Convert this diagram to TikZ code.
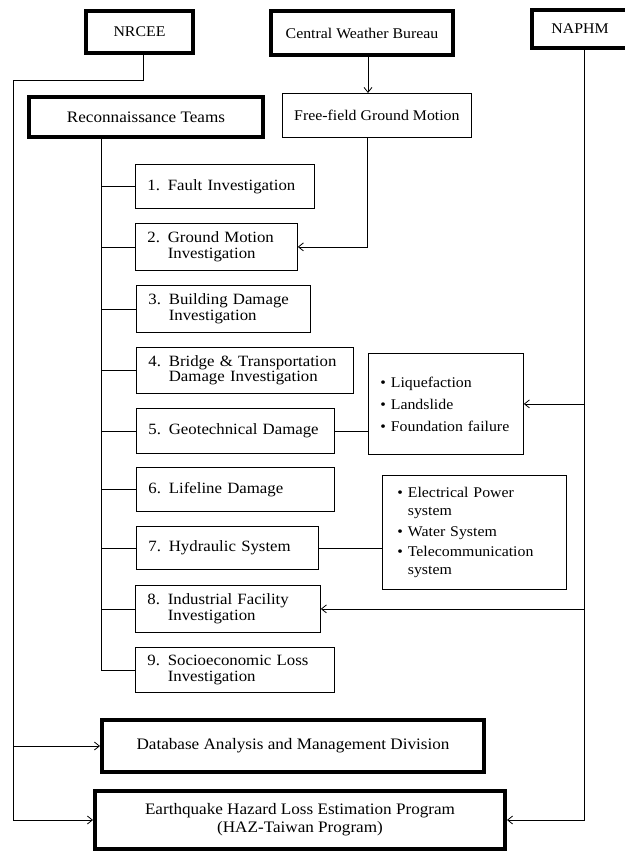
\documentclass[tikz,border=0pt]{standalone}
\usepackage{fontspec}
\setmainfont{Liberation Serif}[FakeStretch=1.07]
\usepackage{tikz}
\usetikzlibrary{arrows.meta,positioning}
\hyphenpenalty=10000

\begin{document}
\begin{tikzpicture}[x=1pt, y=-1pt, >={Straight Barb[length=5pt,width=8pt]},
  every node/.style={draw,anchor=north west,line width=0.8pt,inner sep=0pt},
  headbox/.style={line width=4pt,font=\fontsize{14.8}{16}\selectfont},
  mainbox/.style={line width=4pt,font=\fontsize{16}{18}\selectfont,align=center},
  numbox/.style={align=left,inner xsep=12pt,font=\fontsize{15.7}{15.5}\selectfont},
  listbox/.style={align=left,font=\fontsize{14.8}{18}\selectfont},
  link/.style={line width=0.8pt}]
  \useasboundingbox (0,0) rectangle (624,853);

  % agencies
  \node[headbox,minimum width=107pt,minimum height=42pt] (nrcee) at (84,9) {NRCEE};
  \node[headbox,minimum width=182pt,minimum height=44pt] (cwb) at (269,9) {Central Weather Bureau};
  \node[headbox,minimum width=96pt,minimum height=38pt] (naphm) at (530,8) {NAPHM};

  \node[mainbox,minimum width=234pt,minimum height=40pt] (recon) at (27,95) {Reconnaissance Teams};
  \node[font=\fontsize{14.8}{16}\selectfont,minimum width=189pt,minimum height=44pt] (ffgm) at (282,93) {Free-field Ground Motion};

  % investigations
  \node[numbox,text width=155pt,minimum height=44pt] (n1) at (135,164) {1. Fault Investigation};
  \node[numbox,text width=138pt,minimum height=47pt] (n2) at (135,223) {2. Ground Motion\\\phantom{2. }Investigation};
  \node[numbox,text width=150pt,minimum height=47pt] (n3) at (136,285) {3. Building Damage\\\phantom{3. }Investigation};
  \node[numbox,text width=193pt,minimum height=46pt] (n4) at (136,347) {4. Bridge \& Transportation\\\phantom{4. }Damage Investigation};
  \node[numbox,text width=174pt,minimum height=45pt] (n5) at (136,408) {5. Geotechnical Damage};
  \node[numbox,text width=174pt,minimum height=44pt] (n6) at (136,467) {6. Lifeline Damage};
  \node[numbox,text width=158pt,minimum height=43pt] (n7) at (136,526) {7. Hydraulic System};
  \node[numbox,text width=161pt,minimum height=47pt] (n8) at (135,585) {8. Industrial Facility\\\phantom{8. }Investigation};
  \node[numbox,text width=175pt,minimum height=45pt] (n9) at (135,647) {9. Socioeconomic Loss\\\phantom{9. }Investigation};

  \node[listbox,font=\fontsize{14.8}{22}\selectfont,inner xsep=12pt,text width=131pt,minimum height=101pt] (liq) at (368,353)
    {\textbullet\ Liquefaction\\\textbullet\ Landslide\\\textbullet\ Foundation failure};
  \node[listbox,inner xsep=15pt,text width=154pt,minimum height=114pt] (elec) at (382,475)
    {\textbullet\ Electrical Power\\\phantom{\textbullet\ }system\\[3pt]\textbullet\ Water System\\[2pt]\textbullet\ Telecommunication\\\phantom{\textbullet\ }system};

  \node[mainbox,minimum width=382pt,minimum height=52pt] (db) at (100,718) {Database Analysis and Management Division};
  \node[mainbox,minimum width=410pt,minimum height=58pt] (haz) at (93,789) {Earthquake Hazard Loss Estimation Program\\(HAZ-Taiwan Program)};

  % NRCEE feed
  \coordinate (lbus) at (13,80);
  \draw[link] ([xshift=4pt]nrcee.south) |- (lbus) -- (lbus |- haz.west);
  \draw[link,->] (lbus |- db.west) -- (db.west);
  \draw[link,->] (lbus |- haz.west) -- (haz.west);

  % CWB feed
  \draw[link,->] ([xshift=6pt]cwb.south) -- ([xshift=6pt]cwb.south |- ffgm.north);
  \draw[link,->] ([xshift=-10pt]ffgm.south) |- (n2.east);

  % NAPHM feed
  \coordinate (ntop) at ([xshift=4pt]naphm.south);
  \draw[link,->] (ntop) |- (haz.east);
  \draw[link,->] (ntop |- liq.east) -- (liq.east);
  \draw[link,->] (ntop |- n8.east) -- (n8.east);

  % team trunk
  \coordinate (trunk) at ([xshift=-45pt]recon.south);
  \draw[link] (trunk) |- (n9.west);
  \foreach \i in {1,...,8}
    \draw[link] (trunk |- n\i.west) -- (n\i.west);

  \draw[link] (n5.east) -- (n5.east -| liq.west);
  \draw[link] (n7.east) -- (n7.east -| elec.west);
\end{tikzpicture}
\end{document}
